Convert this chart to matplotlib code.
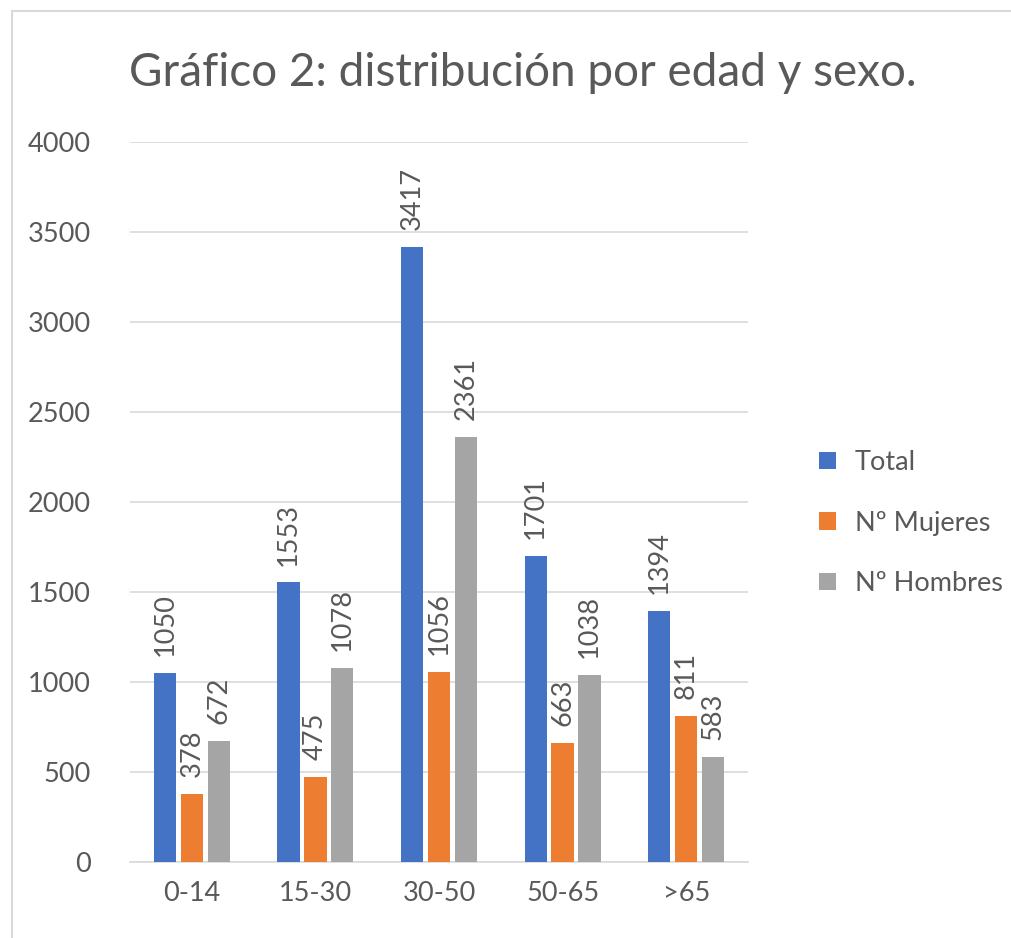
import numpy as np
import matplotlib.pyplot as plt
from matplotlib.patches import Rectangle

plt.rcParams['font.family'] = ['Lato', 'DejaVu Sans']

categories = ['0-14', '15-30', '30-50', '50-65', '>65']
total = [1050, 1553, 3417, 1701, 1394]
mujeres = [378, 475, 1056, 663, 811]
hombres = [672, 1078, 2361, 1038, 583]
series_names = ['Total', 'Nº Mujeres', 'Nº Hombres']
colors = ['#4472C4', '#ED7D31', '#A5A5A5']
text_col = '#595959'
fs = 19.5

fig = plt.figure(figsize=(10.11, 9.38), dpi=100)
ax = fig.add_axes([130 / 1011, 1 - 862 / 938, 618 / 1011, 720 / 938])

# chart border (right and bottom edges fall outside the image)
fig.patches.append(Rectangle((12 / 1011, -10 / 938), 1010 / 1011, 937 / 938,
                             transform=fig.transFigure, fill=False,
                             edgecolor='#D9D9D9', linewidth=1.5))

x = np.arange(len(categories))
width = 0.18
step = 0.218
for i, (vals, name, c) in enumerate(zip([total, mujeres, hombres], series_names, colors)):
    pos = x + (i - 1) * step
    bars = ax.bar(pos, vals, width=width, color=c, label=name, zorder=3)
    for b, v in zip(bars, vals):
        ax.annotate(str(v), (b.get_x() + b.get_width() / 2, v),
                    xytext=(0, 12), textcoords='offset points',
                    rotation=90, ha='center', va='bottom',
                    fontsize=fs, color=text_col)

ax.set_xlim(-0.5, len(categories) - 0.5)
ax.set_ylim(0, 4000)
ax.set_yticks(range(0, 4001, 500))
ax.set_xticks(x)
ax.set_xticklabels(categories)
ax.tick_params(axis='both', length=0, labelsize=fs, labelcolor=text_col)
ax.tick_params(axis='y', pad=28)
ax.tick_params(axis='x', pad=14)
ax.grid(axis='y', color='#D9D9D9', linewidth=1.2, zorder=0)
for s in ['top', 'right', 'left']:
    ax.spines[s].set_visible(False)
ax.spines['bottom'].set_color('#D9D9D9')
ax.spines['bottom'].set_linewidth(1.2)

fig.text(523 / 1011, 1 - 73 / 938, 'Gráfico 2: distribución por edad y sexo.',
         ha='center', va='center', fontsize=33, color=text_col)

leg = fig.legend(loc='center left', bbox_to_anchor=(795 / 1011, 1 - 523 / 938),
                 frameon=False, fontsize=fs, labelcolor=text_col,
                 handlelength=0.6, handleheight=0.6, handletextpad=0.7,
                 labelspacing=1.3)

fig.savefig('out.png', dpi=100)
